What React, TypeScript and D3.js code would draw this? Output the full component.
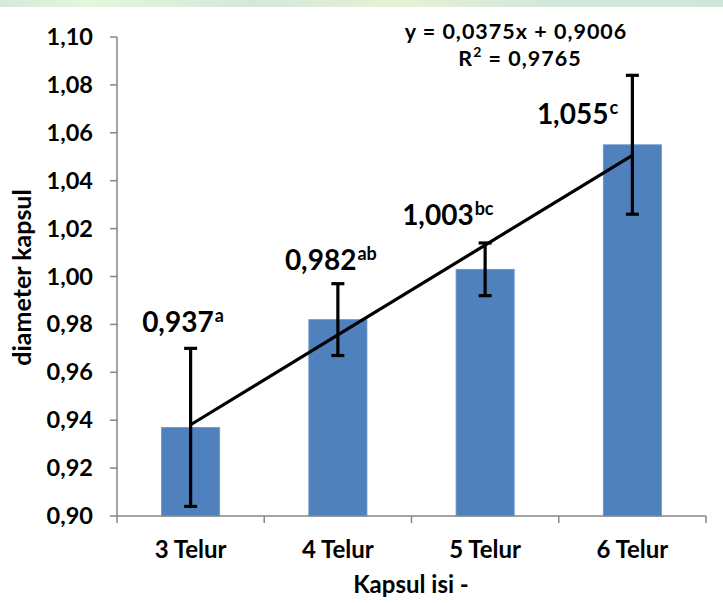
import React from "react";
import * as d3 from "d3";

// Mean capsule diameter per number of eggs in the capsule
const categories = ["3 Telur", "4 Telur", "5 Telur", "6 Telur"];
const means = [0.937, 0.982, 1.003, 1.055];
const errors = [0.033, 0.015, 0.011, 0.029];
const letters = ["a", "ab", "bc", "c"];
const meanLabels = ["0,937", "0,982", "1,003", "1,055"];
const yTicks = [0.9, 0.92, 0.94, 0.96, 0.98, 1.0, 1.02, 1.04, 1.06, 1.08, 1.1];
const trendSlope = 0.0375;
const trendIntercept = 0.9006;
const equationText = "y = 0,0375x + 0,9006";
const r2Value = "0,9765";

const W = 723;
const H = 603;
const FONT = "Lato, 'Open Sans', sans-serif";

// hand-placed data label anchors (left edge offset from category centre, baseline)
const labelPlacement = [
  { dx: -48.5, y: 332 },
  { dx: -53, y: 270 },
  { dx: -83, y: 225 },
  { dx: -95.5, y: 124 },
];

export default function App() {
  const left = 117;
  const right = 706;
  const top = 37;
  const bottom = 516;

  const x = d3.scaleBand<string>().domain(categories).range([left, right]).paddingInner(0).paddingOuter(0);
  const y = d3.scaleLinear().domain([0.9, 1.1]).range([bottom, top]);
  const barW = x.bandwidth() * 0.395;
  const cx = (c: string) => (x(c) ?? 0) + x.bandwidth() / 2;
  const fmt = (v: number) => d3.format(".2f")(v).replace(".", ",");

  const trend = d3
    .line<number>()
    .x((i) => cx(categories[i]))
    .y((i) => y(trendSlope * (i + 1) + trendIntercept));

  return (
    <svg width={W} height={H} style={{ position: "absolute", left: 0, top: 0, background: "#fff" }}>
      <defs>
        <linearGradient id="band" x1="0" x2="1" y1="0" y2="0">
          <stop offset="0" stopColor="#d4eadb" />
          <stop offset="0.12" stopColor="#e4f7da" />
          <stop offset="0.35" stopColor="#d3e8dc" />
          <stop offset="0.55" stopColor="#e8f1d2" />
          <stop offset="0.75" stopColor="#d2e8dc" />
          <stop offset="1" stopColor="#cfe6da" />
        </linearGradient>
      </defs>
      <rect x={0} y={0} width={W} height={7} fill="url(#band)" />

      {/* bars */}
      {categories.map((c, i) => (
        <rect
          key={c}
          x={cx(c) - barW / 2}
          y={y(means[i])}
          width={barW}
          height={y(0.9) - y(means[i])}
          fill="#4f81bd"
          stroke="#6f97c8"
          strokeWidth={0.8}
        />
      ))}

      {/* axes */}
      <g stroke="#868686" strokeWidth={1.5} fill="none">
        <line x1={left} x2={left} y1={top} y2={bottom} />
        <line x1={left} x2={right} y1={bottom} y2={bottom} />
        {yTicks.map((t) => (
          <line key={t} x1={left - 7} x2={left} y1={y(t)} y2={y(t)} />
        ))}
        {[...categories.map((c) => x(c) ?? 0), right].map((px, i) => (
          <line key={i} x1={px} x2={px} y1={bottom} y2={bottom + 7} />
        ))}
      </g>

      {yTicks.map((t) => (
        <text
          key={t}
          x={93}
          y={y(t) + 8}
          textAnchor="end"
          fontFamily={FONT}
          fontWeight={700}
          fontSize={23.5}
          fill="#000"
        >
          {fmt(t)}
        </text>
      ))}

      {categories.map((c) => (
        <text
          key={c}
          x={cx(c)}
          y={558}
          textAnchor="middle"
          fontFamily={FONT}
          fontWeight={700}
          fontSize={24}
          fill="#000"
        >
          {c}
        </text>
      ))}

      <text x={411} y={593} textAnchor="middle" fontFamily={FONT} fontWeight={700} fontSize={24} fill="#000">
        Kapsul isi -
      </text>
      <text
        transform={`translate(31,${(top + bottom) / 2 + 1}) rotate(-90)`}
        textAnchor="middle"
        fontFamily={FONT}
        fontWeight={700}
        fontSize={25}
        fill="#000"
      >
        diameter kapsul
      </text>

      {/* trend line */}
      <path d={trend([0, 1, 2, 3]) ?? ""} stroke="#000" strokeWidth={3.2} fill="none" />

      {/* error bars */}
      <g stroke="#000" strokeWidth={3.2}>
        {categories.map((c, i) => {
          const px = cx(c);
          const hi = y(means[i] + errors[i]);
          const lo = y(means[i] - errors[i]);
          return (
            <g key={c}>
              <line x1={px} x2={px} y1={hi} y2={lo} />
              <line x1={px - 6.5} x2={px + 6.5} y1={hi} y2={hi} />
              <line x1={px - 6.5} x2={px + 6.5} y1={lo} y2={lo} />
            </g>
          );
        })}
      </g>

      {/* mean labels with significance letters */}
      {categories.map((c, i) => {
        const o = labelPlacement[i];
        return (
          <text
            key={c}
            x={cx(c) + o.dx}
            y={o.y}
            textAnchor="start"
            fontFamily={FONT}
            fontWeight={700}
            fontSize={28}
            fill="#000"
          >
            {meanLabels[i]}
            <tspan fontSize={18} dx={1} dy={-10}>
              {letters[i]}
            </tspan>
          </text>
        );
      })}

      {/* regression equation */}
      <text
        x={516}
        y={39}
        textAnchor="middle"
        fontFamily={FONT}
        fontWeight={700}
        fontSize={21.5}
        letterSpacing={1}
        fill="#000"
      >
        {equationText}
      </text>
      <text
        x={520}
        y={66}
        textAnchor="middle"
        fontFamily={FONT}
        fontWeight={700}
        fontSize={21.5}
        letterSpacing={1}
        fill="#000"
      >
        R<tspan fontSize={14} dy={-9}>2</tspan>
        <tspan dy={9}>{` = ${r2Value}`}</tspan>
      </text>
    </svg>
  );
}
